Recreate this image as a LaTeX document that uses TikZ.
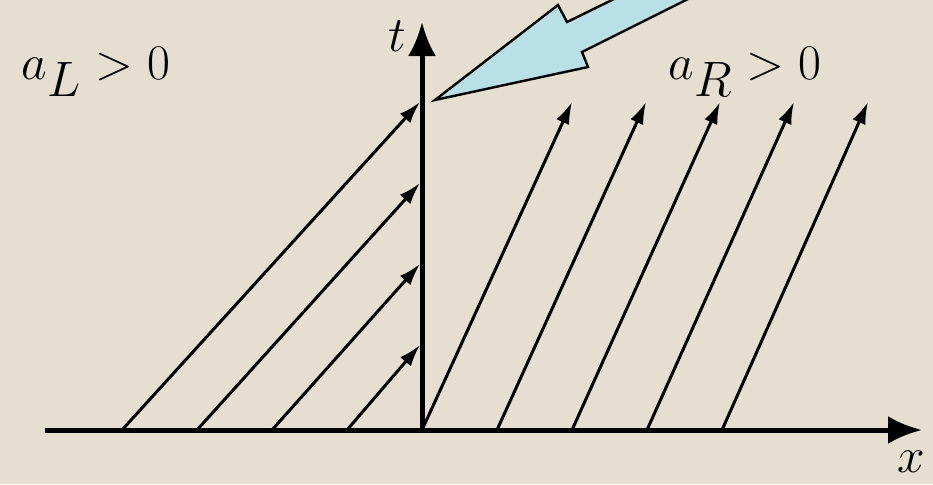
\documentclass[tikz,border=0pt]{standalone}
\usetikzlibrary{arrows.meta,positioning,calc}
\definecolor{parchment}{RGB}{230,222,208}
\definecolor{calloutBlue}{RGB}{185,224,230}
\tikzset{
    axisArrow/.style={-{Latex[length=17pt,width=14pt]}, line width=2.5pt},
    charArrow/.style={-{Latex[length=11pt,width=7pt]}, line width=1.5pt},
    bigLabel/.style={font=\fontsize{34}{40}\selectfont, inner sep=0pt},
    callout/.style={fill=calloutBlue, draw=black, line width=1.2pt, line join=miter}
}

\begin{document}
\begin{tikzpicture}[x=0.5pt, y=-0.5pt]
\fill[parchment] (0,0) rectangle (933,484);
\useasboundingbox (0,0) rectangle (933,484);

% axes
\coordinate (origin) at (422,430);
\coordinate (xStart) at (45,430);
\coordinate (xEnd) at (922,430);
\coordinate (tEnd) at (422,22);
\draw[axisArrow] (xStart) -- (xEnd);
\draw[axisArrow] (origin) -- (tEnd);
\node[bigLabel] (tLabel) at (397,36) {$t$};
\node[bigLabel] (xLabel) at (911,462) {$x$};

% characteristics, left state
\foreach \i in {0,...,3} {
    \coordinate (footL\i) at (122+75*\i,430);
    \coordinate (headL\i) at (420,102+81*\i);
    \draw[charArrow] (footL\i) -- (headL\i);
}
% characteristics, right state
\foreach \i in {0,...,4} {
    \coordinate (footR\i) at (422+75*\i,430);
    \coordinate (headR\i) at (572+74*\i,102);
    \draw[charArrow] (footR\i) -- (headR\i);
}

\node[bigLabel] (leftSpeed) at (96,72) {$a_L > 0$};
\node[bigLabel] (rightSpeed) at (745,72) {$a_R > 0$};

% pointer
\coordinate (calloutTip) at (435,100);
\begin{scope}
\clip (0,0) rectangle (933,484);
\draw[callout] (calloutTip) -- (558,5) -- (567,22) -- (657,-22) -- (730,-22)
    -- (582,52) -- (588,67) -- cycle;
\end{scope}
\end{tikzpicture}
\end{document}
